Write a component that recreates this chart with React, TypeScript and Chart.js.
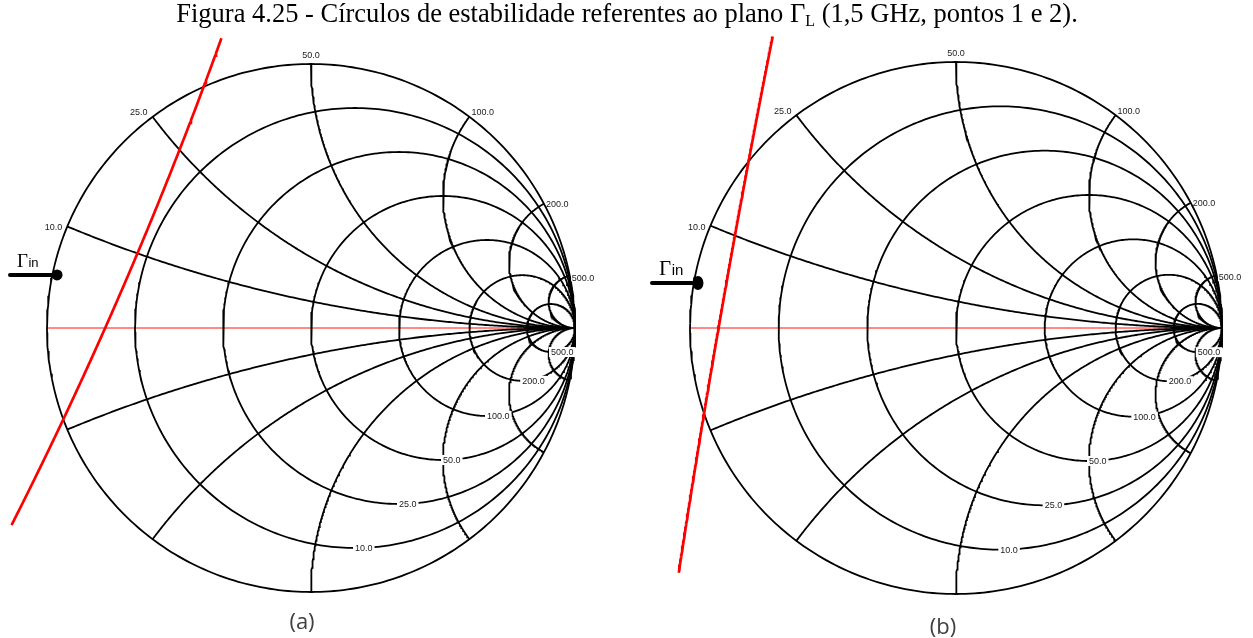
import { useEffect, useRef } from "react";
import { Chart, registerables } from "chart.js";

Chart.register(...registerables);

// Smith chart grid, reference impedance 50 Ω
const Z0 = 50;
const gridOhms = [10, 25, 50, 100, 200, 500];
const gridLabels = ["10.0", "25.0", "50.0", "100.0", "200.0", "500.0"];

// Stability circles in the Γ_L plane: centre (Re, Im), radius, drawn arc in degrees
const stabCenterA = [-15.64, 6.6];
const stabRadiusA = 16.26;
const stabArcA = [-26.86, -19.78];

const stabCenterB = [44.6, -7.88];
const stabRadiusB = 46.17;
const stabArcB = [168.79, 171.33];

// Γin points (Re, Im)
const gammaInA = [-0.962, 0.201];
const gammaInB = [-0.97, 0.169];

type Panel = {
  left: number;
  top: number;
  width: number;
  height: number;
  cx: number;
  cy: number;
  R: number;
  stabCenter: number[];
  stabRadius: number;
  stabArc: number[];
  gammaIn: number[];
  markerStartX: number;
  dotRx: number;
  dotRy: number;
  gammaFont: number;
  inFont: number;
};

const panelA: Panel = {
  left: 0,
  top: 30,
  width: 626,
  height: 582,
  cx: 311,
  cy: 328,
  R: 264,
  stabCenter: stabCenterA,
  stabRadius: stabRadiusA,
  stabArc: stabArcA,
  gammaIn: gammaInA,
  markerStartX: 10,
  dotRx: 5.5,
  dotRy: 5.5,
  gammaFont: 19,
  inFont: 13,
};

const panelB: Panel = {
  left: 626,
  top: 30,
  width: 627,
  height: 582,
  cx: 956,
  cy: 328,
  R: 266,
  stabCenter: stabCenterB,
  stabRadius: stabRadiusB,
  stabArc: stabArcB,
  gammaIn: gammaInB,
  markerStartX: 652,
  dotRx: 5.5,
  dotRy: 7,
  gammaFont: 21,
  inFont: 15,
};

type Pt = { x: number; y: number };

function arcPoints(cu: number, cv: number, rad: number, a0: number, a1: number, n: number): Pt[] {
  const pts: Pt[] = [];
  for (let i = 0; i <= n; i++) {
    const a = ((a0 + ((a1 - a0) * i) / n) * Math.PI) / 180;
    pts.push({ x: cu + rad * Math.cos(a), y: cv + rad * Math.sin(a) });
  }
  return pts;
}

// Constant-resistance circle for normalised r
function resistanceCircle(r: number): Pt[] {
  return arcPoints(r / (1 + r), 0, 1 / (1 + r), 0, 360, 360);
}

// Point where the constant-reactance arc meets the unit circle
function reactanceEdge(x: number): Pt {
  return { x: (x * x - 1) / (x * x + 1), y: (2 * x) / (x * x + 1) };
}

// Constant-reactance arc (x > 0 upper half, mirrored for x < 0)
function reactanceArc(x: number): Pt[] {
  const ax = Math.abs(x);
  const e = reactanceEdge(ax);
  let a0 = (Math.atan2(e.y - 1 / ax, e.x - 1) * 180) / Math.PI;
  if (a0 < 0) a0 += 360;
  const pts = arcPoints(1, 1 / ax, 1 / ax, a0, 270, 240);
  return x < 0 ? pts.map((p) => ({ x: p.x, y: -p.y })) : pts;
}

function lineSet(data: Pt[], color: string, width: number, order: number) {
  return {
    data,
    showLine: true,
    borderColor: color,
    borderWidth: width,
    pointRadius: 0,
    fill: false,
    tension: 0,
    order,
  };
}

const GRID_W = 1.8;

function buildDatasets(p: Panel) {
  const sets: any[] = [];
  // real axis
  sets.push(lineSet([{ x: -1, y: 0 }, { x: 1, y: 0 }], "rgb(255,20,20)", 1, 5));
  // outer circle
  sets.push(lineSet(arcPoints(0, 0, 1, 0, 360, 360), "#000", GRID_W, 3));
  gridOhms.forEach((ohm) => {
    const n = ohm / Z0;
    sets.push(lineSet(resistanceCircle(n), "#000", GRID_W, 3));
    sets.push(lineSet(reactanceArc(n), "#000", GRID_W, 3));
    sets.push(lineSet(reactanceArc(-n), "#000", GRID_W, 3));
  });
  // stability circle
  sets.push(
    lineSet(
      arcPoints(p.stabCenter[0], p.stabCenter[1], p.stabRadius, p.stabArc[0], p.stabArc[1], 200),
      "#ff0000",
      2.7,
      1
    )
  );
  return sets;
}

function decorPlugin(p: Panel) {
  return {
    id: "smithDecor",
    afterDatasetsDraw(chart: any) {
      const ctx = chart.ctx as CanvasRenderingContext2D;
      const xs = chart.scales.x;
      const ys = chart.scales.y;
      const px = (u: number) => xs.getPixelForValue(u);
      const py = (v: number) => ys.getPixelForValue(v);
      ctx.save();
      ctx.font = '9px "Liberation Sans", Arial, sans-serif';
      ctx.fillStyle = "#1a1a1a";

      gridOhms.forEach((ohm, i) => {
        const n = ohm / Z0;
        const label = gridLabels[i];
        // reactance label on the rim
        const e = reactanceEdge(n);
        const ang = Math.atan2(e.y, e.x);
        const c = Math.cos(ang);
        const s = Math.sin(ang);
        let tx = px(e.x);
        const ty = py(e.y) + 3 - 11 * s * s;
        if (c < -0.3) {
          ctx.textAlign = "right";
          tx -= 5;
        } else if (c > 0.3) {
          ctx.textAlign = "left";
          tx += 2;
        } else {
          ctx.textAlign = "center";
        }
        ctx.textBaseline = "middle";
        ctx.fillText(label, tx, ty);

        // resistance label at the bottom of its circle
        const bx = px(n / (1 + n));
        const by = py(-1 / (1 + n));
        const w = ctx.measureText(label).width;
        ctx.fillStyle = "#fff";
        ctx.fillRect(bx - 2, by - 5, w + 4, 10);
        ctx.fillStyle = "#1a1a1a";
        ctx.textAlign = "left";
        ctx.fillText(label, bx, by + 0.5);
      });

      // Γin marker
      const gx = px(p.gammaIn[0]);
      const gy = py(p.gammaIn[1]);
      const sx = p.markerStartX - p.left;
      ctx.strokeStyle = "#000";
      ctx.lineWidth = 4;
      ctx.lineCap = "round";
      ctx.beginPath();
      ctx.moveTo(sx, gy);
      ctx.lineTo(gx, gy);
      ctx.stroke();
      ctx.fillStyle = "#000";
      ctx.beginPath();
      ctx.ellipse(gx, gy, p.dotRx, p.dotRy, 0, 0, Math.PI * 2);
      ctx.fill();

      ctx.textAlign = "left";
      ctx.textBaseline = "alphabetic";
      ctx.font = `${p.gammaFont}px "Liberation Serif", "Times New Roman", serif`;
      const gxText = sx + 7;
      const base = gy - 8;
      ctx.fillText("Γ", gxText, base);
      const gw = ctx.measureText("Γ").width;
      ctx.font = `${p.inFont}px "Liberation Sans", Arial, sans-serif`;
      ctx.fillText("in", gxText + gw + 0.5, base);
      ctx.restore();
    },
  };
}

function SmithPanel({ p }: { p: Panel }) {
  const ref = useRef<HTMLCanvasElement | null>(null);
  useEffect(() => {
    if (!ref.current) return;
    const xmin = (p.left - p.cx) / p.R;
    const xmax = (p.left + p.width - p.cx) / p.R;
    const ymax = (p.cy - p.top) / p.R;
    const ymin = (p.cy - p.top - p.height) / p.R;
    const chart = new Chart(ref.current, {
      type: "scatter",
      data: { datasets: buildDatasets(p) },
      options: {
        animation: false,
        responsive: false,
        events: [],
        layout: { padding: 0 },
        plugins: { legend: { display: false }, tooltip: { enabled: false } },
        scales: {
          x: { type: "linear", min: xmin, max: xmax, display: false },
          y: { type: "linear", min: ymin, max: ymax, display: false },
        },
      },
      plugins: [decorPlugin(p)],
    });
    return () => chart.destroy();
  }, [p]);
  return (
    <canvas
      ref={ref}
      width={p.width}
      height={p.height}
      style={{ position: "absolute", left: p.left, top: p.top, width: p.width, height: p.height }}
    />
  );
}

const captionStyle = {
  position: "absolute" as const,
  width: 100,
  textAlign: "center" as const,
  fontFamily: '"Open Sans", "Liberation Sans", sans-serif',
  fontSize: 22,
  color: "#404040",
};

export default function App() {
  return (
    <div style={{ position: "absolute", left: 0, top: 0, width: 1253, height: 638, background: "#fff", overflow: "hidden" }}>
      <SmithPanel p={panelA} />
      <SmithPanel p={panelB} />
      <div
        style={{
          position: "absolute",
          left: 0,
          top: -2,
          width: 1254,
          textAlign: "center",
          fontFamily: '"Liberation Serif", "Times New Roman", serif',
          fontSize: 26.5,
          lineHeight: "30px",
          color: "#000",
          whiteSpace: "nowrap",
        }}
      >
        Figura 4.25 - Círculos de estabilidade referentes ao plano Γ
        <span style={{ fontSize: 16, position: "relative", top: 4 }}>L</span> (1,5 GHz, pontos 1 e 2).
      </div>
      <div style={{ ...captionStyle, left: 252, top: 605 }}>(a)</div>
      <div style={{ ...captionStyle, left: 893, top: 610 }}>(b)</div>
    </div>
  );
}
